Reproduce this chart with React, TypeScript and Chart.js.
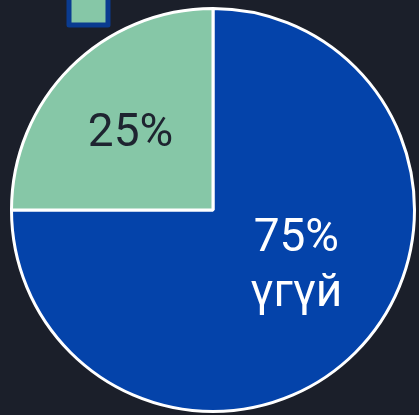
import React, { useEffect, useRef } from "react";
import { Chart, registerables } from "chart.js";

Chart.register(...registerables);

// ---- data ----
const categories = ["үгүй", "тийм"];
const values = [75, 25];
const sliceLabelLines = [["75%", "үгүй"], ["25%"]];
const legendShown = [1];

// ---- styles ----
const BG = "#1b1f2a";
const sliceColors = ["#0443aa", "#86c7a7"];
const textColors = ["#ffffff", "#1e2430"];
const LEGEND_BORDER = "#0a3b90";
const FONT_FAMILY = "Roboto";
const FONT_SIZE = 46;
const LINE_HEIGHT = 1.2;
const CANVAS_SHIFT = 73;
const CANVAS_H = 566;
// label anchor: fraction along the slice's angle, fraction of radius
const labelAnchors = [
  { t: 0.452, r: 0.488 },
  { t: 0.49, r: 0.57 },
];

const sliceLabelPlugin = {
  id: "sliceLabels",
  afterDatasetsDraw(chart: any) {
    const meta = chart.getDatasetMeta(0);
    const ctx = chart.ctx;
    meta.data.forEach((arc: any, i: number) => {
      const p = arc.getProps(["x", "y", "startAngle", "endAngle", "outerRadius"], true);
      const a = p.startAngle + (p.endAngle - p.startAngle) * labelAnchors[i].t;
      const rr = p.outerRadius * labelAnchors[i].r;
      const cx = p.x + Math.cos(a) * rr;
      const cy = p.y + Math.sin(a) * rr;
      const lines = sliceLabelLines[i];
      const lh = FONT_SIZE * LINE_HEIGHT;
      ctx.save();
      ctx.font = `${FONT_SIZE}px ${FONT_FAMILY}`;
      ctx.fillStyle = textColors[i];
      ctx.textAlign = "center";
      ctx.textBaseline = "alphabetic";
      lines.forEach((t: string, k: number) => {
        const my = cy + (k - (lines.length - 1) / 2) * lh;
        ctx.fillText(t, cx, my + FONT_SIZE * 0.711 / 2);
      });
      ctx.restore();
    });
  },
};

export default function App() {
  const ref = useRef<HTMLCanvasElement | null>(null);

  useEffect(() => {
    if (!ref.current) return;
    const chart = new Chart(ref.current, {
      type: "pie",
      data: {
        labels: categories,
        datasets: [
          {
            data: values,
            backgroundColor: sliceColors,
            borderColor: "#ffffff",
            borderWidth: 3,
          },
        ],
      },
      options: {
        responsive: false,
        animation: false,
        events: [],
        layout: { padding: { left: 10, right: 3, top: 0, bottom: 0 } },
        plugins: {
          tooltip: { enabled: false },
          legend: {
            display: true,
            position: "chartArea",
            align: "start",
            labels: {
              padding: 59,
              boxWidth: 39,
              boxHeight: 39,
              generateLabels: () =>
                legendShown.map((i) => ({
                  text: "",
                  fillStyle: sliceColors[i],
                  strokeStyle: LEGEND_BORDER,
                  lineWidth: 5,
                  lineJoin: "round",
                  hidden: false,
                  index: i,
                })),
            },
          },
        },
      } as any,
      plugins: [sliceLabelPlugin],
    });
    return () => chart.destroy();
  }, []);

  return (
    <div
      style={{
        position: "fixed",
        left: 0,
        top: 0,
        width: 419,
        height: 415,
        background: BG,
        overflow: "hidden",
      }}
    >
      <canvas
        ref={ref}
        width={419}
        height={CANVAS_H}
        style={{ display: "block", position: "absolute", left: 0, top: -CANVAS_SHIFT }}
      />
    </div>
  );
}
